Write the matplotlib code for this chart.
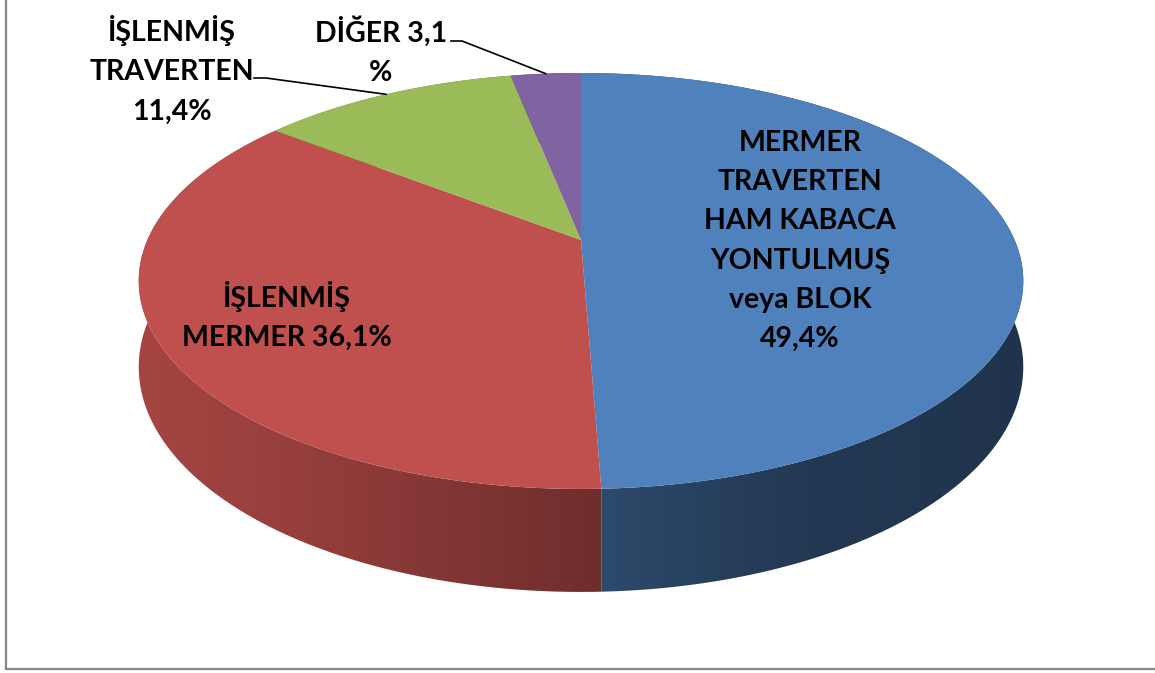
import numpy as np
import matplotlib.pyplot as plt
from matplotlib.patches import Polygon, Rectangle

plt.rcParams['font.family'] = ['Lato', 'DejaVu Sans']

# data
labels = ['MERMER\nTRAVERTEN\nHAM KABACA\nYONTULMUŞ\nveya BLOK\n49,4%',
          'İŞLENMİŞ\nMERMER 36,1%',
          'İŞLENMİŞ\nTRAVERTEN\n11,4%',
          'DİĞER 3,1\n%']
shares = [49.4, 36.1, 11.4, 3.1]
colors = ['#4F81BD', '#C0504D', '#9BBB59', '#8064A2']

# 3d pie geometry (pixels, y down)
cx, cy = 581, 240
A, B, k = 433.6, 199.9, 0.197
depth = 82.7


def proj(theta, drop=0.0):
    t = np.radians(theta)
    u, v = np.sin(t), -np.cos(t)
    s = 1.0 / (1.0 - k * v)
    return cx + A * u * s, cy + B * v * s + drop * s


def arc(a0, a1, drop=0.0, n=200):
    th = np.linspace(a0, a1, n)
    x, y = proj(th, drop)
    return np.column_stack([x, y])


# side shading along x
shade_x = [0, 140, 300, 600, 800, 1025, 1155]
shade_f = [0.86, 0.86, 0.78, 0.57, 0.44, 0.40, 0.40]

fig = plt.figure(figsize=(11.55, 6.73), dpi=100)
ax = fig.add_axes([0, 0, 1, 1])
ax.set_xlim(0, 1155)
ax.set_ylim(673, 0)
ax.axis('off')

total = sum(shares)
bounds = np.concatenate([[0], np.cumsum(shares) / total * 360])

xs = np.arange(0, 1155)
fx = np.interp(xs, shade_x, shade_f)

# side walls
for i, c in enumerate(colors):
    a0, a1 = bounds[i], bounds[i + 1]
    pts = np.vstack([arc(a0, a1), arc(a0, a1, depth)[::-1]])
    patch = Polygon(pts, closed=True, fc='none', ec='none', transform=ax.transData)
    ax.add_patch(patch)
    rgb = np.array(plt.matplotlib.colors.to_rgb(c))
    grad = (fx[:, None] * rgb[None, :])[None, :, :]
    im = ax.imshow(grad, extent=[0, 1155, 673, 0], aspect='auto', zorder=1,
                   interpolation='bilinear')
    im.set_clip_path(patch)

# top faces
for i, c in enumerate(colors):
    a0, a1 = bounds[i], bounds[i + 1]
    pts = np.vstack([[cx, cy], arc(a0, a1)])
    ax.add_patch(Polygon(pts, closed=True, fc=c, ec='none', zorder=2))

ax.set_xlim(0, 1155)
ax.set_ylim(673, 0)

# labels
fs = 20.5
ls = 1.62
ax.text(800, 241, labels[0], ha='center', va='center', fontsize=fs,
        fontweight='bold', linespacing=ls, zorder=5)
ax.text(287, 316, labels[1], ha='center', va='center', fontsize=fs,
        fontweight='bold', linespacing=ls, zorder=5)
ax.text(172, 70, labels[2], ha='center', va='center', fontsize=fs,
        fontweight='bold', linespacing=ls, zorder=5)
ax.text(381, 51, labels[3], ha='center', va='center', fontsize=fs,
        fontweight='bold', linespacing=ls, zorder=5)

# leader lines
gx, gy = proj((bounds[2] + bounds[3]) / 2)
ax.plot([254, 266, gx], [78, 78, gy], color='black', lw=1.2, zorder=4)
px, py = proj((bounds[3] + bounds[4]) / 2)
ax.plot([451, 462, px], [41, 41, py], color='black', lw=1.2, zorder=4)

# chart border
ax.add_patch(Rectangle((6, -10), 1200, 679, fill=False, ec='#878787', lw=1.6, zorder=6))

fig.savefig('out.png', dpi=100)
